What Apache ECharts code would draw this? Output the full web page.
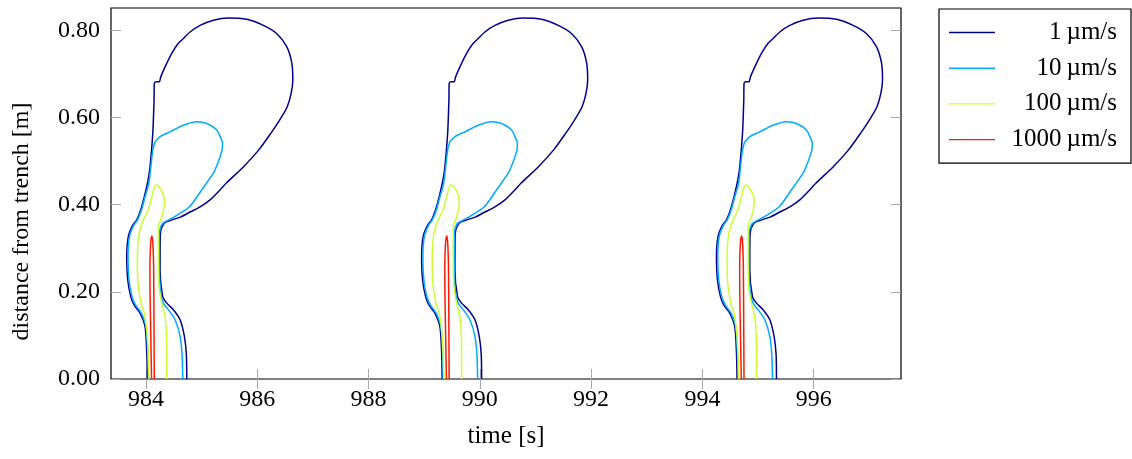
<!DOCTYPE html>
<html><head><meta charset="utf-8">
<script src="https://cdn.jsdelivr.net/npm/echarts@6/dist/echarts.min.js"></script>
<style>html,body{margin:0;padding:0;background:#fff}#c{width:1132px;height:459px}</style>
</head><body><div id="c"></div>
<script>
// start time of each of the three cycles [s]
const cycleStarts = [984.0, 989.3, 994.6];
const xTicks = [984, 986, 988, 990, 992, 994, 996];
const yTicks = [0, 0.2, 0.4, 0.6, 0.8];
const seriesNames = ['1\u2009µm/s', '10\u2009µm/s', '100\u2009µm/s', '1000\u2009µm/s'];

// isoline shapes, [time since cycle start (s), distance (m)]
const loop1 = [[0.023,0.000],[0.013,0.060],[-0.018,0.120],[-0.108,0.151],[-0.216,0.170],[-0.275,0.189],[-0.329,0.227],[-0.347,0.281],[-0.318,0.327],[-0.239,0.353],[-0.167,0.365],[-0.095,0.388],[-0.031,0.418],[0.036,0.456],[0.072,0.487],[0.121,0.563],[0.144,0.640],[0.149,0.678],[0.180,0.682],[0.239,0.682],[0.264,0.693],[0.342,0.716],[0.462,0.747],[0.581,0.770],[0.671,0.781],[0.791,0.796],[0.971,0.811],[1.210,0.823],[1.480,0.828],[1.811,0.825],[2.110,0.811],[2.351,0.792],[2.531,0.762],[2.621,0.724],[2.638,0.686],[2.608,0.655],[2.536,0.624],[2.401,0.594],[2.239,0.563],[2.023,0.525],[1.753,0.487],[1.439,0.449],[1.331,0.434],[1.151,0.411],[0.971,0.395],[0.791,0.383],[0.629,0.372],[0.468,0.365],[0.342,0.359],[0.275,0.345],[0.255,0.327],[0.252,0.250],[0.300,0.189],[0.372,0.174],[0.491,0.159],[0.612,0.136],[0.689,0.098],[0.725,0.056],[0.732,0.000]];
const loop10 = [[0.041,0.000],[0.031,0.060],[0.000,0.120],[-0.085,0.151],[-0.189,0.170],[-0.252,0.189],[-0.306,0.227],[-0.324,0.281],[-0.297,0.327],[-0.221,0.353],[-0.153,0.365],[-0.081,0.388],[-0.018,0.418],[0.050,0.449],[0.121,0.525],[0.162,0.544],[0.203,0.550],[0.252,0.556],[0.432,0.567],[0.671,0.582],[0.912,0.590],[1.092,0.586],[1.272,0.571],[1.331,0.556],[1.376,0.541],[1.367,0.525],[1.331,0.510],[1.277,0.491],[1.210,0.472],[1.002,0.434],[0.780,0.395],[0.510,0.372],[0.300,0.357],[0.245,0.340],[0.239,0.327],[0.239,0.250],[0.264,0.197],[0.311,0.174],[0.401,0.159],[0.522,0.136],[0.612,0.098],[0.647,0.056],[0.660,0.000]];
const loop100 = [[0.054,0.000],[0.023,0.098],[-0.031,0.151],[-0.090,0.174],[-0.149,0.227],[-0.156,0.287],[-0.126,0.334],[-0.049,0.365],[0.041,0.388],[0.103,0.418],[0.140,0.436],[0.177,0.445],[0.215,0.443],[0.255,0.436],[0.300,0.426],[0.330,0.410],[0.325,0.395],[0.282,0.372],[0.225,0.352],[0.221,0.330],[0.221,0.289],[0.234,0.212],[0.282,0.174],[0.342,0.143],[0.368,0.098],[0.372,0.000]];
const loop1000 = [[0.099,0.000],[0.085,0.100],[0.072,0.200],[0.070,0.260],[0.078,0.300],[0.090,0.320],[0.104,0.328],[0.117,0.320],[0.127,0.300],[0.136,0.260],[0.142,0.150],[0.148,0.000]];

const shapes = [loop1, loop10, loop100, loop1000];
const colors = ['#00008c', '#00aaff', '#ccff33', '#ff1a00'];
const FONT = 'Liberation Serif';

const series = [];
shapes.forEach((shape, i) => {
  cycleStarts.forEach(t0 => {
    series.push({
      type: 'line', name: seriesNames[i], xAxisIndex: 0, yAxisIndex: 0,
      data: shape.map(p => [t0 + p[0], p[1]]),
      showSymbol: false, symbol: 'none', smooth: 0.25,
      color: colors[i],
      lineStyle: { color: colors[i], width: 1.5 },
      emphasis: { disabled: true }
    });
  });
});

const tickStyle = { show: true, inside: true, length: 10, lineStyle: { color: '#a8a8a8', width: 1 } };
const chart = echarts.init(document.getElementById('c'), null, { renderer: 'canvas' });
chart.setOption({
  animation: false,
  backgroundColor: '#fff',
  textStyle: { fontFamily: FONT, color: '#000' },
  grid: { left: 111, top: 8, width: 790, height: 371, show: true, borderColor: '#000', borderWidth: 1.2, backgroundColor: 'transparent' },
  legend: {
    data: seriesNames, orient: 'vertical', left: 939, top: 9,
    padding: [11, 14, 11, 10], itemWidth: 46, itemHeight: 24, itemGap: 10.7,
    borderColor: '#000', borderWidth: 1.2, borderRadius: 0,
    icon: 'path://M0,11.3L46,11.3L46,12.7L0,12.7Z',
    formatter: n => '{t|' + n + '}',
    textStyle: { rich: { t: { width: 117, align: 'right', fontSize: 25, fontFamily: FONT, color: '#000', lineHeight: 24 } } },
    selectedMode: false
  },
  xAxis: [{
    type: 'value', position: 'bottom', min: 983.37, max: 997.57,
    name: 'time [s]', nameLocation: 'middle', nameGap: 45,
    nameTextStyle: { fontSize: 25, fontFamily: FONT, color: '#000' },
    axisLine: { show: false },
    axisTick: Object.assign({ customValues: xTicks }, tickStyle),
    axisLabel: { customValues: xTicks, fontSize: 24, fontFamily: FONT, color: '#000', margin: 9, formatter: v => String(v) },
    splitLine: { show: false }
  }, {
    type: 'value', position: 'top', min: 983.37, max: 997.57,
    axisLine: { show: false },
    axisTick: Object.assign({ customValues: xTicks }, tickStyle),
    axisLabel: { show: false }, splitLine: { show: false }
  }],
  yAxis: [{
    type: 'value', position: 'left', min: 0, max: 0.851,
    name: 'distance from trench [m]', nameLocation: 'middle', nameGap: 77, nameRotate: 90,
    nameTextStyle: { fontSize: 24, fontFamily: FONT, color: '#000', padding: [0, 56, 0, 0] },
    axisLine: { show: false },
    axisTick: Object.assign({ customValues: yTicks }, tickStyle),
    axisLabel: { customValues: yTicks, fontSize: 24, fontFamily: FONT, color: '#000', margin: 11, formatter: v => v.toFixed(2) },
    splitLine: { show: false }
  }, {
    type: 'value', position: 'right', min: 0, max: 0.851,
    axisLine: { show: false },
    axisTick: Object.assign({ customValues: yTicks }, tickStyle),
    axisLabel: { show: false }, splitLine: { show: false }
  }],
  series: series
});
</script></body></html>
